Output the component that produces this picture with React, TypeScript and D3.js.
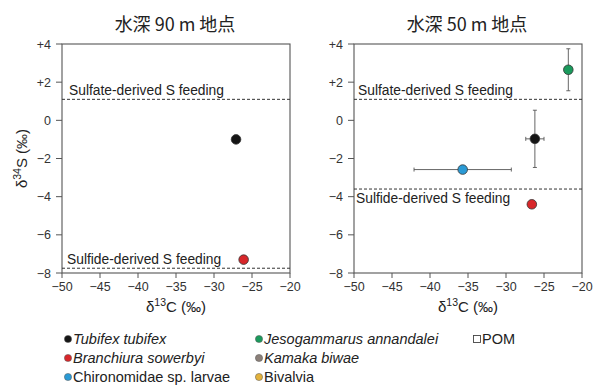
import React from "react";
import * as d3 from "d3";

const xTicks = [-50, -45, -40, -35, -30, -25, -20];
const yTicks = [4, 2, 0, -2, -4, -6, -8];
const yTickLabels = ["+4", "+2", "0", "\u22122", "\u22124", "\u22126", "\u22128"];

const panelTitles = ["水深 90 m 地点", "水深 50 m 地点"];
const sulfateLevels = [1.1, 1.1];
const sulfideLevels = [-7.75, -3.6];

const species = ["Tubifex tubifex", "Branchiura sowerbyi", "Chironomidae sp. larvae", "Jesogammarus annandalei", "Kamaka biwae", "Bivalvia", "POM"];
const speciesItalic = [true, true, false, true, true, false, false];
const speciesColors = ["#151515", "#d8272a", "#2a9ad5", "#1a9a5c", "#8b8079", "#e3b23c", "#ffffff"];

// panel 0 (90 m)
const p90Species = [0, 1];
const p90C = [-27.1, -26.1];
const p90S = [-1.0, -7.3];
const p90CErr = [0, 0];
const p90SErr = [0, 0];

// panel 1 (50 m)
const p50Species = [3, 0, 2, 1];
const p50C = [-21.8, -26.2, -35.7, -26.6];
const p50S = [2.65, -0.97, -2.58, -4.4];
const p50CErr = [0, 1.2, 6.4, 0];
const p50SErr = [1.1, 1.5, 0, 0];

const panels = [
  { left: 62, sp: p90Species, c: p90C, s: p90S, ce: p90CErr, se: p90SErr },
  { left: 354, sp: p50Species, c: p50C, s: p50S, ce: p50CErr, se: p50SErr },
];

const W = 228;
const TOP = 44;
const BOTTOM = 273;
const font = "'Liberation Sans', Arial, Helvetica, sans-serif";
const cjk = "'Noto Sans CJK JP', 'Noto Sans CJK SC', sans-serif";
const textColor = "#333";

function Panel({ idx }: { idx: number }) {
  const p = panels[idx];
  const x = d3.scaleLinear().domain([-50, -20]).range([p.left, p.left + W]);
  const y = d3.scaleLinear().domain([-8, 4]).range([BOTTOM, TOP]);
  const cx = p.left + W / 2;
  return (
    <g>
      <text x={cx - 1} y={31} textAnchor="middle" fontFamily={cjk} fontSize={18} fill="#222">
        {panelTitles[idx]}
      </text>
      <rect x={p.left} y={TOP} width={W} height={BOTTOM - TOP} fill="none" stroke="#555" strokeWidth={1.1} />
      {xTicks.map((t) => (
        <g key={"x" + t}>
          <line x1={x(t)} x2={x(t)} y1={BOTTOM} y2={BOTTOM + 5} stroke="#555" />
          <text x={x(t)} y={BOTTOM + 18} textAnchor="middle" fontFamily={font} fontSize={12.5} fill={textColor}>
            {t === 0 ? "0" : "\u2212" + Math.abs(t)}
          </text>
        </g>
      ))}
      {yTicks.map((t, i) => (
        <g key={"y" + t}>
          <line x1={p.left - 6} x2={p.left} y1={y(t)} y2={y(t)} stroke="#555" />
          <text x={p.left - 11} y={y(t) + 4.5} textAnchor="end" fontFamily={font} fontSize={12.5} fill={textColor}>
            {yTickLabels[i]}
          </text>
        </g>
      ))}
      <line x1={p.left} x2={p.left + W} y1={y(sulfateLevels[idx])} y2={y(sulfateLevels[idx])} stroke="#333" strokeDasharray="3,2" strokeWidth={1} />
      <line x1={p.left} x2={p.left + W} y1={y(sulfideLevels[idx])} y2={y(sulfideLevels[idx])} stroke="#333" strokeDasharray="3,2" strokeWidth={1} />
      <text x={p.left + (idx === 0 ? 7 : 4)} y={y(sulfateLevels[idx]) - 4} fontFamily={font} fontSize={13.8} fill="#222">
        Sulfate-derived S feeding
      </text>
      <text x={p.left + (idx === 0 ? 5 : 2)} y={idx === 0 ? y(sulfideLevels[idx]) - 4.5 : y(sulfideLevels[idx]) + 14} fontFamily={font} fontSize={13.8} fill="#222">
        Sulfide-derived S feeding
      </text>
      {p.sp.map((s, i) => (
        <g key={"e" + i}>
          {p.ce[i] > 0 && (
            <g stroke="#555" strokeWidth={0.9}>
              <line x1={x(p.c[i] - p.ce[i])} x2={x(p.c[i] + p.ce[i])} y1={y(p.s[i])} y2={y(p.s[i])} />
              <line x1={x(p.c[i] - p.ce[i])} x2={x(p.c[i] - p.ce[i])} y1={y(p.s[i]) - 2} y2={y(p.s[i]) + 2} />
              <line x1={x(p.c[i] + p.ce[i])} x2={x(p.c[i] + p.ce[i])} y1={y(p.s[i]) - 2} y2={y(p.s[i]) + 2} />
            </g>
          )}
          {p.se[i] > 0 && (
            <g stroke="#555" strokeWidth={0.9}>
              <line x1={x(p.c[i])} x2={x(p.c[i])} y1={y(p.s[i] - p.se[i])} y2={y(p.s[i] + p.se[i])} />
              <line x1={x(p.c[i]) - 2} x2={x(p.c[i]) + 2} y1={y(p.s[i] - p.se[i])} y2={y(p.s[i] - p.se[i])} />
              <line x1={x(p.c[i]) - 2} x2={x(p.c[i]) + 2} y1={y(p.s[i] + p.se[i])} y2={y(p.s[i] + p.se[i])} />
            </g>
          )}
        </g>
      ))}
      {p.sp.map((s, i) => (
        <circle key={"c" + i} cx={x(p.c[i])} cy={y(p.s[i])} r={4.8} fill={speciesColors[s]} stroke="#333" strokeWidth={0.8} />
      ))}
      <text x={cx} y={BOTTOM + 39} textAnchor="middle" fontFamily={font} fontSize={15} fill="#222">
        δ<tspan dy={-6} fontSize={10.5}>13</tspan><tspan dy={6}>C (‰)</tspan>
      </text>
    </g>
  );
}

const legendCols = [68, 259, 477];
const legendRows = [339, 358, 377];
const legendPos = [[0, 0], [0, 1], [0, 2], [1, 0], [1, 1], [1, 2], [2, 0]];

export default function App() {
  return (
    <svg width={599} height={385} style={{ position: "absolute", left: 0, top: 0, background: "#fff" }}>
      <Panel idx={0} />
      <Panel idx={1} />
      <text transform={`translate(27,${(TOP + BOTTOM) / 2}) rotate(-90)`} textAnchor="middle" fontFamily={font} fontSize={15} fill="#222">
        δ<tspan dy={-6} fontSize={10.5}>34</tspan><tspan dy={6}>S (‰)</tspan>
      </text>
      {species.map((name, i) => {
        const [c, r] = legendPos[i];
        const lx = legendCols[c];
        const ly = legendRows[r];
        return (
          <g key={name}>
            {name === "POM" ? (
              <rect x={lx - 3.5} y={ly - 3.5} width={7} height={7} fill="#fff" stroke="#444" strokeWidth={0.9} />
            ) : (
              <circle cx={lx} cy={ly} r={3.6} fill={speciesColors[i]} stroke="#555" strokeWidth={0.5} />
            )}
            <text x={lx + 5} y={ly + 5} fontFamily={font} fontSize={14.5} fontStyle={speciesItalic[i] ? "italic" : "normal"} fill="#222">
              {name}
            </text>
          </g>
        );
      })}
    </svg>
  );
}
